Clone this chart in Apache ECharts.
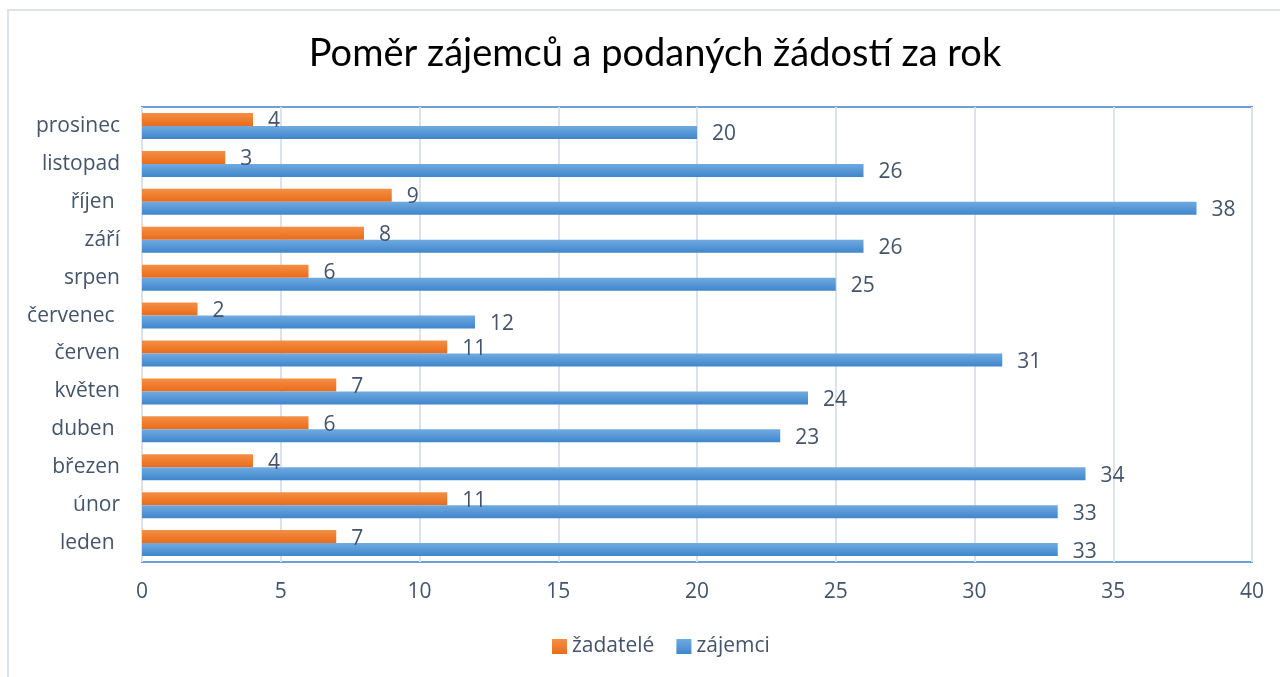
<!DOCTYPE html>
<html><head><meta charset="utf-8">
<script src="https://cdn.jsdelivr.net/npm/echarts@6/dist/echarts.min.js"></script>
<style>html,body{margin:0;padding:0;background:#fff}#c{width:1280px;height:677px}</style>
</head><body><div id="c"></div>
<script>
const categories = ['leden ', 'únor', 'březen', 'duben ', 'květen', 'červen', 'červenec ', 'srpen', 'září', 'říjen ', 'listopad', 'prosinec'];
const zadatele = [7, 11, 4, 6, 7, 11, 2, 6, 8, 9, 3, 4];
const zajemci = [33, 33, 34, 23, 24, 31, 12, 25, 26, 38, 26, 20];
const xTicks = { min: 0, max: 40, interval: 5 };
const seriesNames = ['žadatelé', 'zájemci'];

const txt = '#44546A';
const font = 'Open Sans';
const fs = 21;
const chart = echarts.init(document.getElementById('c'));
const grad = (a, b) => new echarts.graphic.LinearGradient(0, 0, 0, 1, [{offset: 0, color: a}, {offset: 1, color: b}]);
const lbl = {show: true, position: 'right', distance: 15, offset: [0, 2], color: txt, fontSize: fs, fontFamily: font};
chart.setOption({
  animation: false,
  title: {text: 'Poměr zájemců a podaných žádostí za rok', left: 650, textAlign: 'center', top: 30,
    textStyle: {fontFamily: 'Lato', fontWeight: 'normal', fontSize: 38, color: '#000'}},
  graphic: [{type: 'rect', shape: {x: 8, y: 10, width: 1300, height: 700}, style: {fill: 'none', stroke: '#DDE2EA', lineWidth: 2}, silent: true}],
  grid: {left: 142, right: 28, top: 107, bottom: 115, show: true, borderColor: '#6A9FD8', borderWidth: 2, backgroundColor: 'transparent'},
  legend: {bottom: 15, left: 547, itemWidth: 15, itemHeight: 15, itemGap: 22, icon: 'rect',
    data: seriesNames, textStyle: {color: txt, fontSize: fs, fontFamily: font}},
  xAxis: {type: 'value', min: xTicks.min, max: xTicks.max, interval: xTicks.interval,
    axisLine: {show: false}, axisTick: {show: false},
    axisLabel: {color: txt, fontSize: fs, fontFamily: font, margin: 20},
    splitLine: {lineStyle: {color: '#DDE2EA', width: 2}}},
  yAxis: {type: 'category', data: categories, inverse: false,
    axisLine: {show: false}, axisTick: {show: false},
    axisLabel: {color: txt, fontSize: fs, fontFamily: font, margin: 22}},
  series: [
    {name: seriesNames[0], type: 'bar', data: zadatele, barWidth: 13, barGap: '0%',
     itemStyle: {color: grad('#F58F45', '#E96C1A')}, label: lbl},
    {name: seriesNames[1], type: 'bar', data: zajemci, barWidth: 13, barGap: '0%',
     itemStyle: {color: grad('#70AAE0', '#3F86CC')}, label: lbl}
  ]
});
</script></body></html>
